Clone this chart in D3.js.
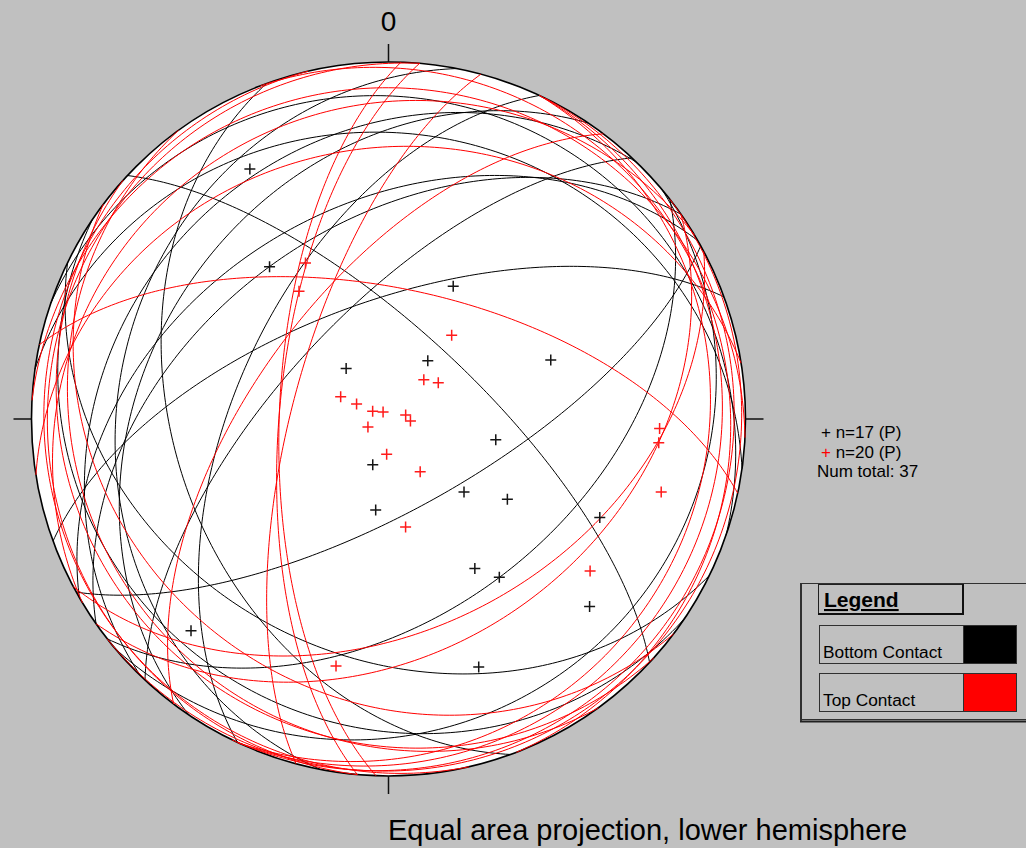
<!DOCTYPE html>
<html>
<head>
<meta charset="utf-8">
<script src="https://cdn.jsdelivr.net/npm/d3@7"></script>
<style>
  html, body { margin: 0; padding: 0; background: #c0c0c0; }
  svg { display: block; }
  text { font-family: "Liberation Sans", Arial, sans-serif; }
</style>
</head>
<body>
<svg id="chart" width="1026" height="848"></svg>
<script>
// Planes measured at the bottom contact: dip direction / dip (degrees)
const bottomDipDir = [151, 142, 206, 140, 214, 250, 281, 19, 314, 304, 8, 295, 330, 325, 313, 43, 340];
const bottomDip    = [ 69,  45,  34,  15,  16,  40,  25, 11,  24,  33, 21,  55,  40,  45,  66, 70,  63];

// Planes measured at the top contact: dip direction / dip (degrees)
const topDipDir = [152, 145, 217, 222, 234, 115, 115, 116, 142, 257, 275, 69, 3, 329, 351, 272, 275, 285, 307, 12];
const topDip    = [ 41,  36,  24,  12,  14,  12,   8,   4,   2,   4,   5,  5, 8,  14,  25,  65,  65,  68,  60, 60];

const seriesNames  = ["Bottom Contact", "Top Contact"];
const seriesColors = ["#000000", "#ff0000"];
const northLabel = "0";
const titleText = "Equal area projection, lower hemisphere";
const totalCount = bottomDip.length + topDip.length;

const svg = d3.select("#chart");
const CX = 388.5, CY = 419, R = 357;
const rad = Math.PI / 180;

// unit-net coordinates -> pixels
const x = d3.scaleLinear().domain([-1, 1]).range([CX - R, CX + R]);
const y = d3.scaleLinear().domain([-1, 1]).range([CY + R, CY - R]);

// Lambert equal-area, lower hemisphere: direction vector (E, N, Down) -> net coords
function projVec(e, n, z) {
  const k = 1 / Math.sqrt(1 + z);
  return [e * k, n * k];
}
function projLine(trend, plunge) {
  const t = trend * rad, p = plunge * rad;
  return projVec(Math.cos(p) * Math.sin(t), Math.cos(p) * Math.cos(t), Math.sin(p));
}
function greatCircle(dipDir, dip) {
  const d = dipDir * rad, a = dip * rad;
  const s = [Math.sin(d - Math.PI / 2), Math.cos(d - Math.PI / 2), 0];
  const w = [Math.cos(a) * Math.sin(d), Math.cos(a) * Math.cos(d), Math.sin(a)];
  return d3.range(0, 180.5, 1).map(l => {
    const c = Math.cos(l * rad), sn = Math.sin(l * rad);
    return projVec(s[0] * c + w[0] * sn, s[1] * c + w[1] * sn, Math.max(0, s[2] * c + w[2] * sn));
  });
}

const line = d3.line().x(d => x(d[0])).y(d => y(d[1]));

// primitive circle
svg.append("circle")
  .attr("cx", x(0)).attr("cy", y(0)).attr("r", x(1) - x(0))
  .attr("fill", "#ffffff").attr("stroke", "#000").attr("stroke-width", 1.6);

// cardinal ticks
const tickLen = 18;
[[0, 1, 0, -1], [1, 0, 1, 0], [0, -1, 0, 1], [-1, 0, -1, 0]].forEach(([u, v, du, dv]) => {
  svg.append("line")
    .attr("x1", x(u)).attr("y1", y(v))
    .attr("x2", x(u) + du * tickLen).attr("y2", y(v) + dv * tickLen)
    .attr("stroke", "#111").attr("stroke-width", 1.5);
});

svg.append("text")
  .attr("x", x(0)).attr("y", 31)
  .attr("text-anchor", "middle").attr("font-size", 28).attr("fill", "#000")
  .text(northLabel);

const sets = [
  { dd: bottomDipDir, dip: bottomDip, color: seriesColors[0] },
  { dd: topDipDir, dip: topDip, color: seriesColors[1] }
];

// great circles
sets.forEach(set => {
  svg.append("g")
    .selectAll("path")
    .data(set.dd.map((d, i) => greatCircle(d, set.dip[i])))
    .join("path")
    .attr("d", line)
    .attr("fill", "none")
    .attr("stroke", set.color)
    .attr("stroke-width", 1);
});

// poles to planes
const arm = 5.5;
sets.forEach(set => {
  const g = svg.append("g");
  set.dd.forEach((d, i) => {
    const p = projLine((d + 180) % 360, 90 - set.dip[i]);
    const px = x(p[0]), py = y(p[1]);
    g.append("path")
      .attr("d", `M${px - arm},${py}H${px + arm}M${px},${py - arm}V${py + arm}`)
      .attr("stroke", set.color === "#000000" ? "#151515" : "#ff1a1a")
      .attr("stroke-width", 1.5)
      .attr("fill", "none");
  });
});

// counts
const stats = svg.append("g").attr("font-size", 17).attr("fill", "#000");
const t1 = stats.append("text").attr("x", 821).attr("y", 438);
t1.append("tspan").attr("fill", seriesColors[0]).text("+");
t1.append("tspan").text(` n=${bottomDip.length} (P)`);
const t2 = stats.append("text").attr("x", 821).attr("y", 457.5);
t2.append("tspan").attr("fill", seriesColors[1]).text("+");
t2.append("tspan").text(` n=${topDip.length} (P)`);
stats.append("text").attr("x", 817).attr("y", 477).text(`Num total: ${totalCount}`);

// legend
const lg = svg.append("g");
lg.append("rect").attr("x", 800.5).attr("y", 583.5).attr("width", 230).attr("height", 136)
  .attr("fill", "#c0c0c0").attr("stroke", "#303030").attr("stroke-width", 1);
lg.append("line").attr("x1", 800).attr("y1", 721.5).attr("x2", 1026).attr("y2", 721.5)
  .attr("stroke", "#202020").attr("stroke-width", 2);
lg.append("line").attr("x1", 801).attr("y1", 583).attr("x2", 801).attr("y2", 721)
  .attr("stroke", "#303030").attr("stroke-width", 2);
// title box
lg.append("rect").attr("x", 818.5).attr("y", 584.5).attr("width", 144).attr("height", 29)
  .attr("fill", "none").attr("stroke", "#202020").attr("stroke-width", 1);
lg.append("line").attr("x1", 818).attr("y1", 614).attr("x2", 964).attr("y2", 614)
  .attr("stroke", "#101010").attr("stroke-width", 2);
lg.append("line").attr("x1", 963).attr("y1", 584).attr("x2", 963).attr("y2", 615)
  .attr("stroke", "#101010").attr("stroke-width", 2);
lg.append("text").attr("x", 824).attr("y", 607)
  .attr("font-size", 21).attr("font-weight", "bold").attr("text-decoration", "underline")
  .attr("fill", "#000").text("Legend");

const rowY = [625, 673];
seriesNames.forEach((name, i) => {
  const ry = rowY[i];
  lg.append("rect").attr("x", 819.5).attr("y", ry + 0.5).attr("width", 197).attr("height", 38)
    .attr("fill", "none").attr("stroke", "#303030").attr("stroke-width", 1);
  lg.append("rect").attr("x", 963.5).attr("y", ry + 0.5).attr("width", 53).attr("height", 38)
    .attr("fill", seriesColors[i]).attr("stroke", "#303030").attr("stroke-width", 1);
  lg.append("text").attr("x", 823).attr("y", ry + 33)
    .attr("font-size", 17.3).attr("fill", "#000").text(name);
});

// caption
svg.append("text")
  .attr("x", 388).attr("y", 840)
  .attr("font-size", 29).attr("fill", "#000")
  .text(titleText);
</script>
</body>
</html>
